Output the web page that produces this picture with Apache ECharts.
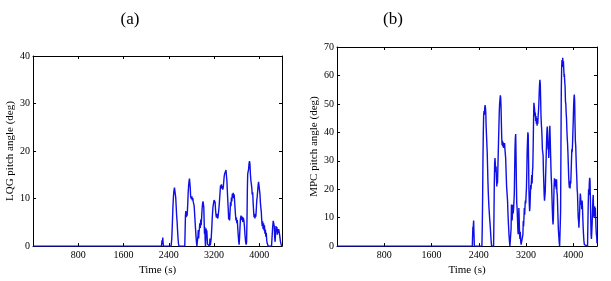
<!DOCTYPE html>
<html><head><meta charset="utf-8">
<script src="https://cdn.jsdelivr.net/npm/echarts@6/dist/echarts.min.js"></script>
<style>html,body{margin:0;padding:0;background:#fff}#c{width:611px;height:281px}</style>
</head><body><div id="c"></div>
<script>
const xTickStep = 800;
const xMax = 4400;
const lqgYMax = 40;
const mpcYMax = 70;
const titles = ['(a)', '(b)'];
const yNames = ['LQG pitch angle (deg)', 'MPC pitch angle (deg)'];
const xName = 'Time (s)';

const lqgPitch = [
[0,0],[2270,0],[2280,1.2],[2287,0.5],[2293,1.8],[2299,0.7],[2305,0],
[2440,0],[2452,1.5],[2462,4.5],[2472,8],[2482,10.5],[2492,11.8],[2500,12.3],[2508,12.6],[2515,12.1],[2522,10.2],[2530,8.4],[2538,6.5],[2546,5.2],[2554,3.4],[2562,1.8],[2570,0.6],[2578,0],
[2682,0],[2688,3.2],[2694,6.5],[2700,7.4],[2707,6.1],[2714,7],[2721,6.3],[2728,7.2],[2735,9],[2742,11.2],[2750,12.8],[2758,13.7],[2765,14.2],[2772,13.8],[2779,12.2],[2786,10.4],[2793,10.8],[2800,9.9],[2808,10.5],[2816,9.6],[2824,10.1],[2832,9.3],[2840,9.6],[2848,8.4],[2856,6.8],[2864,5.2],[2872,3.6],[2880,2.1],[2888,0.9],[2896,0],
[2908,0],[2915,2.2],[2921,3.4],[2927,1.6],[2933,2.9],[2940,3.6],[2948,4.8],[2956,3.8],[2964,5.6],[2972,4.4],[2980,6],[2988,7.8],[2996,8.9],[3004,9.4],[3011,9.7],[3018,8.2],[3024,5.4],[3030,2.6],[3036,4],[3042,1.4],[3048,0],[3054,2.2],[3060,3.7],[3066,2],[3072,3.3],[3078,1.7],[3084,0.4],[3090,0],
[3120,0],[3127,1.6],[3134,0.2],[3140,0],[3150,1.8],[3160,4],[3170,6.5],[3180,8.2],[3190,9],[3200,9.7],[3210,10],[3218,9.2],[3226,7.6],[3234,6.5],[3242,6],[3250,6.8],[3258,6.3],[3266,5.8],[3274,6.6],[3282,7.5],[3290,8.6],[3298,10],[3306,11.4],[3314,12.8],[3322,12.3],[3330,13],[3338,12.1],[3346,12.6],[3354,11.9],[3362,12.4],[3370,13.5],[3378,14.6],[3386,15.2],[3394,14.9],[3402,15.6],[3410,16],[3418,15.7],[3426,13.8],[3434,11.6],[3442,9.6],[3450,7.8],[3458,5.6],[3466,6.9],[3474,5.4],[3482,7.2],[3490,9.2],[3498,8.4],[3506,10.2],[3514,9.4],[3522,11],[3530,10.2],[3538,11.2],[3546,10.1],[3554,10.9],[3562,9.6],[3570,8],[3578,6.6],[3586,5.4],[3594,6],[3602,4.8],[3610,5.5],[3618,3.8],[3626,2.4],[3634,1.1],[3642,0.3],[3650,1.8],[3658,4],[3666,5.8],[3676,6.4],[3686,5.5],[3696,6.2],[3706,5.1],[3716,6],[3726,5.4],[3736,4.2],[3746,2.4],[3756,1],[3766,0.3],[3774,0.8],[3782,6],[3788,12],[3794,15.2],[3802,14.8],[3810,16.2],[3818,17.4],[3826,17.9],[3834,17.2],[3842,15],[3850,13.8],[3858,14],[3866,12.3],[3874,10.8],[3882,11.3],[3890,9.1],[3898,7.4],[3906,6.1],[3914,6.6],[3922,5.8],[3930,6.8],[3938,6.2],[3946,7.8],[3954,9.6],[3962,10.4],[3970,11.6],[3978,12.8],[3986,13.5],[3994,13.8],[4002,13.1],[4010,11],[4018,9.2],[4026,8.1],[4034,7.2],[4042,5.4],[4050,4.2],[4058,5.2],[4066,3.6],[4074,4.8],[4082,3.3],[4090,4.4],[4098,2.6],[4106,3.5],[4114,2],[4122,2.8],[4130,1.2],[4138,0.6],[4146,0.2],[4156,0],
[4215,0],[4225,2],[4235,4],[4245,5.3],[4255,5.6],[4263,4.2],[4270,2],[4278,0.9],[4286,2.5],[4294,4.2],[4302,3.1],[4310,4],[4318,2.4],[4326,3.6],[4334,2.8],[4342,3.6],[4350,3.3],[4360,2.2],[4372,1],[4385,0.3],[4400,0]
];

const mpcPitch = [
[0,0],[2290,0],[2296,4.5],[2300,6.8],[2304,5.2],[2308,7.5],[2312,9],[2316,6.2],[2320,3],[2324,0],
[2452,0],[2458,6],[2464,16],[2470,30],[2476,40],[2482,46],[2488,47.5],[2494,46.2],[2500,48.5],[2506,49.6],[2512,48.6],[2518,47],[2524,42],[2530,39],[2536,36],[2542,33],[2548,28],[2554,23],[2560,19],[2566,16],[2572,13.5],[2578,11.5],[2584,9.5],[2590,8],[2596,6],[2602,4],[2608,2],[2616,0],
[2650,0],[2656,10],[2662,22],[2668,29],[2674,31],[2680,28.5],[2686,26],[2692,28],[2698,24],[2704,21],[2710,24],[2716,22],[2722,27],[2728,32],[2734,37],[2740,42],[2746,47],[2752,50],[2758,51.5],[2764,53],[2770,52.2],[2776,49],[2782,43],[2788,38],[2794,35.5],[2800,37],[2806,35],[2812,36.5],[2818,34.5],[2824,36],[2830,35],[2836,36.2],[2842,34],[2848,33.5],[2854,31],[2862,26],[2870,21],[2878,18.5],[2886,16],[2894,11],[2902,7.5],[2910,4.2],[2918,1.8],[2926,0],
[2940,0],[2946,6],[2952,14.6],[2958,13],[2964,9],[2970,12],[2976,14.5],[2982,11.5],[2988,13],[2994,12.3],[3000,18],[3006,26],[3012,34],[3018,38],[3024,39.4],[3030,32],[3036,22],[3042,15],[3048,13.4],[3054,10],[3060,6],[3066,4.2],[3072,8],[3078,13.4],[3084,9],[3090,4],[3096,2.5],[3102,5],[3108,1.9],[3116,0.5],[3125,0],
[3140,0],[3146,4],[3152,8.8],[3158,7],[3164,10],[3170,13.4],[3176,11],[3182,14],[3188,16],[3194,15],[3200,18],[3206,20.3],[3212,26],[3218,33],[3224,37],[3230,40],[3236,39],[3242,30],[3248,20],[3254,15],[3260,12.3],[3266,14],[3272,18],[3278,21.5],[3284,20],[3290,23],[3296,25],[3302,22],[3308,26],[3314,28],[3320,35],[3326,44],[3332,50.4],[3338,51],[3344,48],[3350,45.7],[3356,47],[3362,44],[3368,45.7],[3374,43],[3380,45],[3386,42.3],[3392,44],[3398,43],[3404,46],[3410,47.5],[3416,50],[3422,54],[3428,57],[3434,58.5],[3440,57],[3446,52],[3452,46],[3458,43],[3464,41],[3470,38],[3476,34],[3482,33],[3488,31.9],[3494,26],[3500,22],[3506,18],[3512,16],[3518,15.7],[3524,19],[3530,24],[3536,28.4],[3542,33],[3548,38],[3554,41.1],[3560,42],[3566,37],[3572,34],[3578,35.3],[3584,31],[3590,36],[3596,40],[3602,42.3],[3608,38],[3614,33],[3620,28],[3626,24],[3632,21.5],[3638,17],[3644,13],[3650,9.5],[3656,7.6],[3662,10],[3668,16],[3674,21],[3680,23.8],[3686,22],[3692,23.5],[3698,21],[3704,22.7],[3710,20],[3716,23.5],[3722,19],[3728,18],[3734,14],[3740,10],[3746,6],[3752,4],[3760,1.5],[3768,0],
[3780,0],[3784,12],[3790,35],[3796,55],[3802,63],[3808,65.4],[3814,63],[3820,66.2],[3826,64],[3832,65],[3838,62],[3844,59.5],[3848,60.5],[3852,58.5],[3860,56],[3866,51],[3872,50],[3878,47],[3884,45],[3890,41],[3896,38],[3902,36],[3908,33],[3914,29],[3920,25],[3926,22],[3932,20.5],[3938,21.5],[3944,20.3],[3950,23],[3956,22],[3962,26],[3968,30],[3974,34],[3980,33],[3986,36],[3992,40],[3998,44],[4004,49],[4010,52],[4016,53.3],[4022,51],[4028,43],[4034,37],[4040,35.3],[4046,31],[4052,27],[4058,24],[4064,20],[4070,18.5],[4076,14],[4082,10],[4088,8.8],[4094,6.5],[4100,7],[4106,12],[4112,16],[4118,18.5],[4124,17],[4130,14.6],[4136,15.5],[4142,13],[4148,16],[4154,14],[4160,10],[4166,6.5],[4172,4],[4178,2],[4186,0.5],[4195,0],
[4240,0],[4246,8],[4252,15],[4258,20],[4264,18],[4270,22],[4276,24],[4282,23],[4288,17],[4294,10],[4300,4],[4306,2.5],[4312,3],[4318,8],[4324,12],[4330,16],[4336,18],[4342,13],[4348,10],[4354,11],[4360,14],[4366,12],[4372,13.5],[4378,10],[4384,6],[4390,4],[4396,3],[4400,1]
];

const FONT = "'Liberation Serif', 'Times New Roman', serif";
const chart = echarts.init(document.getElementById('c'), null, {renderer: 'canvas'});

const grids = [
  {left: 33, top: 56, width: 249, height: 193},
  {left: 337, top: 47, width: 260, height: 202}
];
const yMaxes = [lqgYMax, mpcYMax];
const seriesData = [lqgPitch, mpcPitch];

const axLine = {show: true, onZero: false, lineStyle: {color: '#000', width: 1}};
const axTick = {show: true, inside: true, length: 3, lineStyle: {color: '#000', width: 1}};
const labelStyle = {fontFamily: FONT, fontSize: 10, color: '#000'};

const xAxis = [], yAxis = [], series = [];
grids.forEach((g, i) => {
  xAxis.push({
    type: 'value', gridIndex: i, position: 'bottom', min: 0, max: xMax, interval: xTickStep,
    axisLine: axLine, axisTick: axTick, splitLine: {show: false},
    axisLabel: Object.assign({margin: 4, formatter: v => (v > 0 && v % xTickStep === 0) ? String(v) : ''}, labelStyle),
    name: xName, nameLocation: 'middle', nameGap: 15,
    nameTextStyle: {fontFamily: FONT, fontSize: 11, color: '#000'}
  });
  xAxis.push({
    type: 'value', gridIndex: i, position: 'top', min: 0, max: xMax, interval: xTickStep,
    axisLine: axLine, axisTick: axTick, splitLine: {show: false}, axisLabel: {show: false}
  });
  yAxis.push({
    type: 'value', gridIndex: i, position: 'left', min: 0, max: yMaxes[i], interval: 10,
    axisLine: axLine, axisTick: axTick, splitLine: {show: false},
    axisLabel: Object.assign({margin: 3}, labelStyle),
    name: yNames[i], nameLocation: 'middle', nameGap: 17, nameRotate: 90,
    nameTextStyle: {fontFamily: FONT, fontSize: 11, color: '#000'}
  });
  yAxis.push({
    type: 'value', gridIndex: i, position: 'right', min: 0, max: yMaxes[i], interval: 10,
    axisLine: axLine, axisTick: axTick, splitLine: {show: false}, axisLabel: {show: false}
  });
  series.push({
    type: 'line', xAxisIndex: i * 2, yAxisIndex: i * 2, data: seriesData[i],
    showSymbol: false, symbol: 'none', clip: true, animation: false,
    lineStyle: {color: '#0f0fe6', width: 1.4}
  });
});

chart.setOption({
  animation: false,
  backgroundColor: '#fff',
  title: [
    {text: titles[0], left: 125, top: 6, textAlign: 'center', textStyle: {fontFamily: FONT, fontSize: 17, fontWeight: 'normal', color: '#000'}},
    {text: titles[1], left: 388, top: 6, textAlign: 'center', textStyle: {fontFamily: FONT, fontSize: 17, fontWeight: 'normal', color: '#000'}}
  ],
  grid: grids,
  xAxis: xAxis,
  yAxis: yAxis,
  series: series
});
</script>
</body></html>
